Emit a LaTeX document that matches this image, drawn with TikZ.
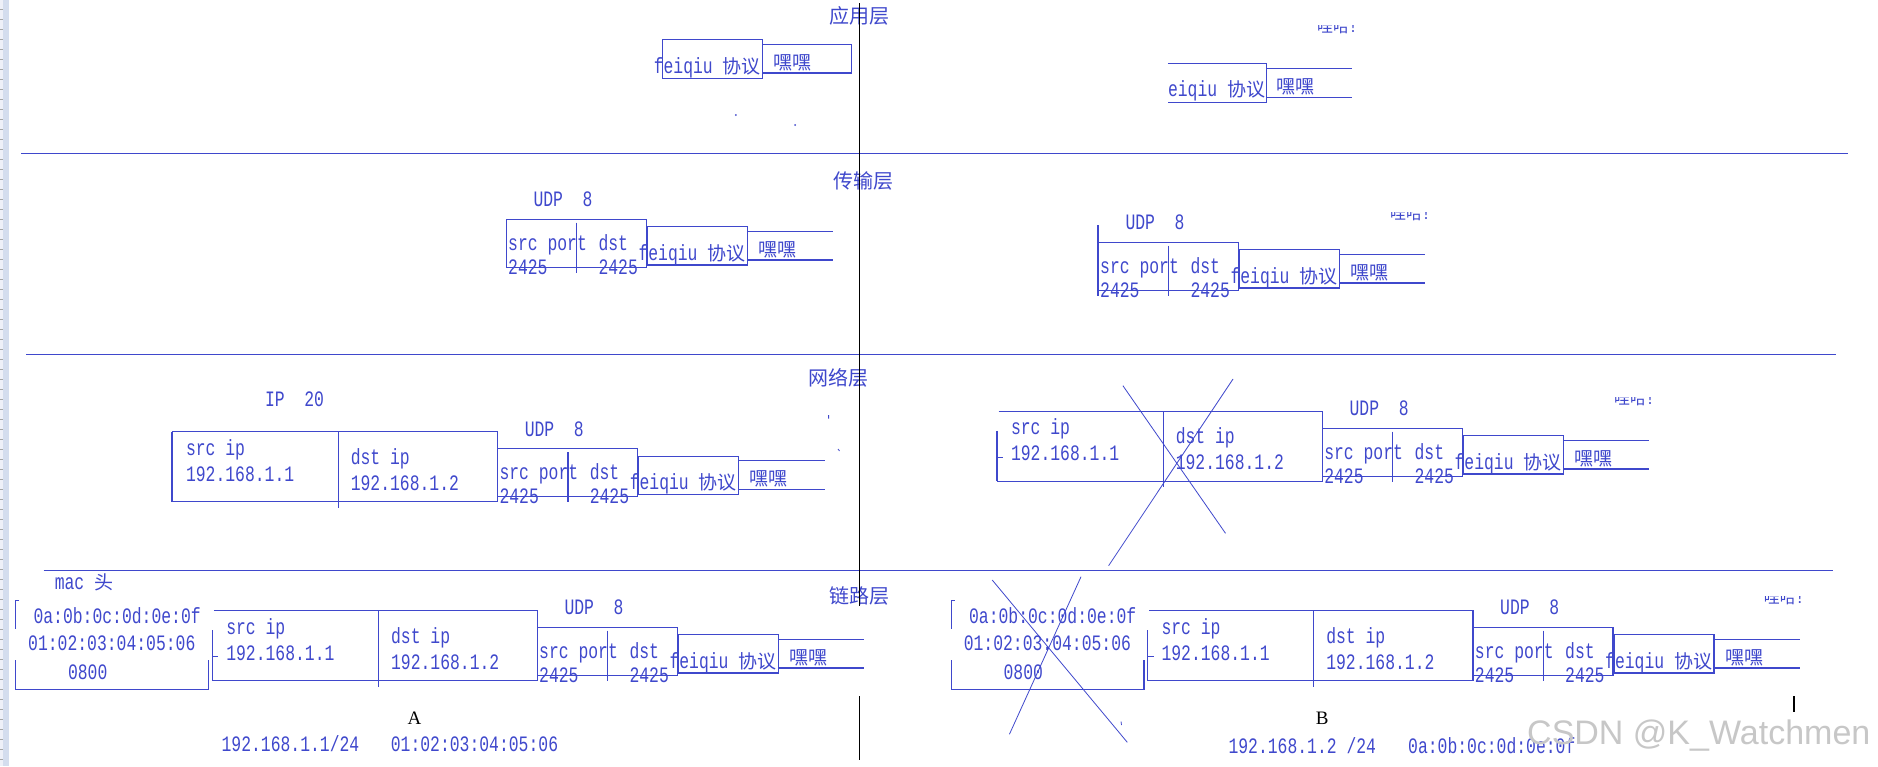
\documentclass[tikz,border=0pt]{standalone}
\usepackage{fontspec}
\setmainfont{Liberation Mono}[FakeStretch=0.745]
\newfontfamily\cjk{Noto Sans CJK SC}
\newfontfamily\serifA{Liberation Serif}
\newfontfamily\wmark{Liberation Sans}
\usepackage{xcolor}
\usepackage{tikz}
\definecolor{pen}{RGB}{63,72,204}
\definecolor{rulerbg}{RGB}{212,221,238}
\definecolor{rulercell}{RGB}{238,240,248}
\newcommand\hanzi[1]{{\cjk\fontsize{19}{19}\selectfont #1}}
\tikzset{
  box/.style={draw=pen, line width=1.2pt},
  lbl/.style={inner sep=0pt, anchor=base west, text=pen, font=\fontsize{22}{22}\selectfont},
  layer/.style={inner sep=0pt, anchor=base west, text=pen, font=\cjk\fontsize{20}{20}\selectfont},
  cross/.style={draw=pen, line width=0.8pt},
  axis/.style={draw=black, line width=1.4pt},
  host/.style={inner sep=0pt, text=black, font=\serifA\fontsize{19}{19}\selectfont}
}

\begin{document}
\begin{tikzpicture}[x=1pt,y=-1pt]
        \newcommand\udpPkt[2]{\begin{scope}[shift={#2}]
          \node[lbl] (#1udp) at (27,-12.6) {UDP\ \ 8};
          \draw[box] (0,0) rectangle (140,48);
          \draw[box] (70.4,3.4) -- (70.4,53.4);
          \node[lbl] (#1sp) at (1.7,30.7) {src port};
          \node[lbl] (#1dp) at (92,30.7) {dst};
          \node[lbl] (#1spn) at (1.7,54.7) {2425};
          \node[lbl] (#1dpn) at (92,54.7) {2425};
          \draw[box] (141,7.4) rectangle (241,45.7);
          \node[lbl] (#1fq) at (132,40.7) {feiqiu \hanzi{协议}};
          \draw[box] (241,12) -- (327,12) (241,40.7) -- (327,40.7);
          \node[lbl] (#1hh) at (252,37) {\hanzi{嘿嘿}};
        \end{scope}}
        \newcommand\ipPkt[3]{\begin{scope}[shift={#2}]
          \draw[box] (1.5,0) -- (325.5,0) -- (325.5,69.8) -- (0,69.8);
          \draw[box] #3;
          \draw[box] (166.3,0) -- (166.3,75.8);
          \node[lbl] (#1s) at (13.8,23.3) {src ip};
          \node[lbl] (#1sa) at (13.8,49.3) {192.168.1.1};
          \node[lbl] (#1d) at (178.6,32.3) {dst ip};
          \node[lbl] (#1da) at (178.6,58.3) {192.168.1.2};
        \end{scope}}
        \newcommand\macPkt[2]{\begin{scope}[shift={#2}]
          \draw[box] (3.2,0) -- (0,0) -- (0,28.3);
          \draw[box] (0,59.5) -- (0,88.5) -- (192.5,88.5) -- (192.5,59.5);
          \node[lbl] (#1dmac) at (17.5,22.6) {0a:0b:0c:0d:0e:0f};
          \node[lbl] (#1smac) at (12.2,49.3) {01:02:03:04:05:06};
          \node[lbl] (#1type) at (52,78.3) {0800};
        \end{scope}}
        \newcommand\peekText[2]{\begin{scope}[shift={#2}]
          \clip (0,1.5) rectangle (48,9.5);
          \node[inner sep=0pt, anchor=base west, text=pen, font=\cjk\fontsize{16}{16}\selectfont] (#1) at (0,8.5) {哇哈！};
        \end{scope}}
        \useasboundingbox (0,0) rectangle (1878,766);
        \fill[white] (0,0) rectangle (1878,766);
        \fill[rulerbg] (0,0) rectangle (8.7,766);
        \fill[rulercell] (0,0) rectangle (3,766);
        \foreach \y in {9,19,...,759} \draw[gray!70, line width=0.6pt] (0,\y) -- (3,\y);
        \node[layer] (app) at (829,23) {应用层};
        \node[layer] (trans) at (833.5,188.3) {传输层};
        \node[layer] (net) at (808,385.7) {网络层};
        \node[layer] (link) at (829,603) {链路层};
        \draw[box] (21,153.3) -- (1848,153.3);
        \draw[box] (26,354.7) -- (1836,354.7);
        \draw[box] (43.5,570.3) -- (1832.6,570.3);
        \draw[axis] (859.3,3.3) -- (859.3,606) (859.3,696) -- (859.3,760);
        \draw[axis] (1793.9,696) -- (1793.9,711.7);
        \draw[box] (662.7,39.3) rectangle (762.6,78.3);
        \draw[box] (762.6,44.3) rectangle (851.6,73);
        \node[lbl] (aAfq) at (653.6,73.3) {feiqiu \hanzi{协议}};
        \node[lbl] (aAhh) at (773,69.7) {\hanzi{嘿嘿}};
        \fill[pen] (735.8,115) circle (1);
        \fill[pen] (795,125) circle (1);
        \draw[box] (1167.8,63.3) -- (1266.3,63.3) -- (1266.3,102.3) -- (1167.8,102.3);
        \draw[box] (1266.3,68.3) -- (1352.3,68.3) (1266.3,97.3) -- (1352.3,97.3);
        \node[lbl] (aBfq) at (1167.8,96.7) {eiqiu \hanzi{协议}};
        \node[lbl] (aBhh) at (1276.7,93) {\hanzi{嘿嘿}};
        \peekText{aBpeek}{(1317,24)};
        \udpPkt{tA}{(506.3,219.3)};
        \udpPkt{tB}{(1098.3,242.3)};
        \draw[box] (1098,225) -- (1098,296);
        \peekText{tBpeek}{(1390,211)};
        \node[lbl] (ipA) at (264.8,406) {IP\ \ 20};
        \ipPkt{nA}{(172,431.7)}{(0,0) -- (1.5,0) (0,0) -- (0,69.8)};
        \udpPkt{nA}{(497.6,448.7)};
        \draw[cross] (828.6,415) -- (828.6,418.5) (838,449) -- (839.5,451);
        \ipPkt{nB}{(997,411.3)}{(0,19.5) -- (0,69.8) (0,46) -- (6,46)};
        \udpPkt{nB}{(1322.4,428.3)};
        \peekText{nBpeek}{(1614,396)};
        \draw[cross] (1122.9,385.7) -- (1225.5,533.3) (1233,379) -- (1108.6,565.7);
        \node[lbl] (macA) at (54.6,589.3) {mac \hanzi{头}};
        \macPkt{lA}{(15.8,600.7)};
        \ipPkt{lA}{(212.3,610.7)}{(0,19.5) -- (0,69.8) (0,46) -- (6,46)};
        \udpPkt{lA}{(537.3,627.3)};
        \macPkt{lB}{(951.4,600.7)};
        \ipPkt{lB}{(1147.5,610.7)}{(0,19.5) -- (0,69.8) (0,46) -- (6,46)};
        \udpPkt{lB}{(1473,627.3)};
        \peekText{lBpeek}{(1763.7,594.5)};
        \draw[cross] (992.2,580) -- (1127.3,742.3) (1081,576.7) -- (1009.4,734.3);
        \draw[cross] (1121,721.5) -- (1121.5,725);
        \node[host] (hostA) at (414.4,718.3) {A};
        \node[lbl] (ipAddrA) at (221.4,751.7) {192.168.1.1/24};
        \node[lbl] (macAddrA) at (390.7,751.7) {01:02:03:04:05:06};
        \node[host] (hostB) at (1322.2,718.3) {B};
        \node[lbl] (ipAddrB) at (1228.3,753.3) {192.168.1.2 /24};
        \node[lbl] (macAddrB) at (1408,753.3) {0a:0b:0c:0d:0e:0f};
        \node[inner sep=0pt, anchor=base west, text=black!22, font=\wmark\fontsize{34}{34}\selectfont] (mark) at (1527,744) {CSDN @K\_Watchmen};
        \end{tikzpicture}
\end{document}
